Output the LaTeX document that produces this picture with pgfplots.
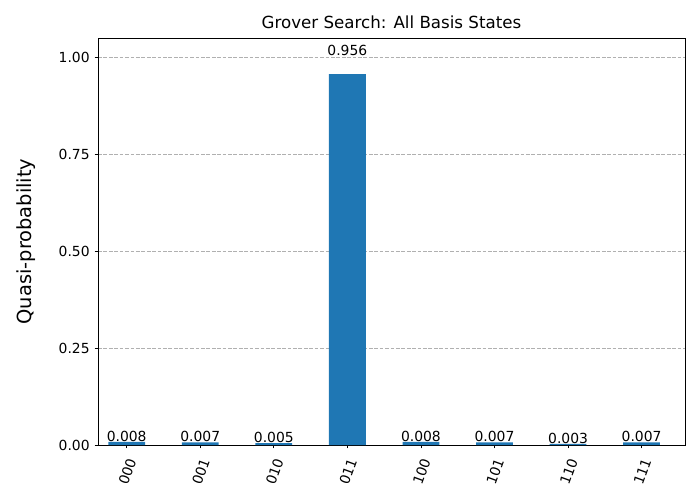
\documentclass[border=0pt]{standalone}
\usepackage{fontspec}
\setmainfont{DejaVu Sans}
\usepackage{pgfplots}
\pgfplotsset{compat=1.18}
\usepackage{pgfplotstable}
\definecolor{mplblue}{HTML}{1F77B4}
\definecolor{gridgray}{HTML}{B0B0B0}
\pgfplotstableread{
x p
0 0.008
1 0.007
2 0.005
3 0.956
4 0.008
5 0.007
6 0.003
7 0.007
}\data
\begin{document}
\begin{tikzpicture}
\begin{axis}[
  scale only axis,
  width=422.64pt, height=293.04pt,
  xmin=-0.39, xmax=7.59, ymin=0, ymax=1.049,
  axis line style={line width=0.58pt},
  xtick={0,1,2,3,4,5,6,7},
  xticklabels={000,001,010,011,100,101,110,111},
  ytick={0,0.25,0.5,0.75,1},
  yticklabel style={/pgf/number format/.cd, fixed, fixed zerofill, precision=2},
  /pgf/number format/assume math mode=true,
  tick label style={font=\fontsize{10}{12}\selectfont},
  xticklabel style={xshift=5pt, yshift=-4.3pt, rotate=70, anchor=east},
  tick align=outside, tick pos=left,
  major tick length=2.5pt,
  every tick/.style={black, line width=0.58pt},
  ymajorgrids,
  grid style={gridgray, dashed, line width=0.58pt, dash pattern=on 2.7pt off 1.2pt},
  title={Grover Search: All Basis States},
  title style={font=\fontsize{12}{14}\selectfont, at={(0.5,1)}, anchor=south, yshift=-3pt},
  ylabel={Quasi-probability},
  ylabel style={font=\fontsize{14}{16}\selectfont, yshift=10pt},
  clip=false,
]
\addplot[ybar, bar width=0.5, fill=mplblue, draw=none] table[x=x, y=p] {\data};
\addplot[only marks, mark=none, nodes near coords, point meta=explicit symbolic,
  every node near coord/.style={anchor=south, inner sep=0pt, font=\fontsize{10}{12}\selectfont, text=black}]
  table[x=x, y expr=1.05*\thisrow{p}, meta=p] {\data};
\end{axis}
\path[use as bounding box] ([shift={(-70.56pt,-39.6pt)}]current axis.south west) rectangle ([shift={(10.8pt,27.36pt)}]current axis.north east);
\end{tikzpicture}
\end{document}
